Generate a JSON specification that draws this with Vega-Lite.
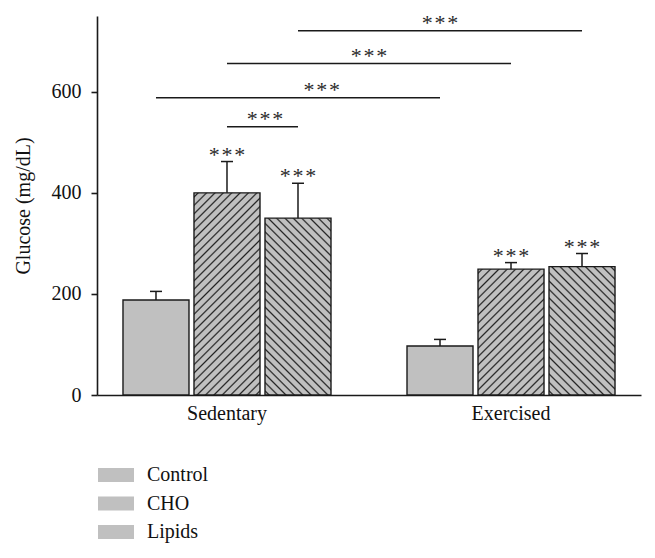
{
  "$schema": "https://vega.github.io/schema/vega-lite/v6.json",
  "width": 544,
  "height": 379,
  "autosize": "none",
  "padding": {"left": 97, "top": 16, "right": 14, "bottom": 163},
  "background": "white",
  "config": {
    "view": {"stroke": null},
    "font": "Liberation Serif",
    "axis": {"grid": false},
    "legend": {"labelFont": "Liberation Serif", "symbolStrokeColor": "#1a1a1a", "symbolStrokeWidth": 1.3}
  },
  "datasets": {
    "bars": [
      {"bar": "S-Control", "condition": "Sedentary", "group": "Control", "mean": 188, "upper": 205, "stars": ""},
      {"bar": "S-CHO", "condition": "Sedentary", "group": "CHO", "mean": 400, "upper": 462, "stars": "*\u200a*\u200a*"},
      {"bar": "S-Lipids", "condition": "Sedentary", "group": "Lipids", "mean": 350, "upper": 419, "stars": "*\u200a*\u200a*"},
      {"bar": "E-Control", "condition": "Exercised", "group": "Control", "mean": 97, "upper": 110, "stars": ""},
      {"bar": "E-CHO", "condition": "Exercised", "group": "CHO", "mean": 249, "upper": 262, "stars": "*\u200a*\u200a*"},
      {"bar": "E-Lipids", "condition": "Exercised", "group": "Lipids", "mean": 254, "upper": 280, "stars": "*\u200a*\u200a*"}
    ],
    "sig": [
      {"bar": "S-CHO", "bar2": "S-Lipids", "level": 531, "anchor": "S-Lipids", "stars": "*\u200a*\u200a*"},
      {"bar": "S-Control", "bar2": "E-Control", "level": 588, "anchor": "S-Lipids", "stars": "*\u200a*\u200a*"},
      {"bar": "S-CHO", "bar2": "E-CHO", "level": 656, "anchor": "gap", "stars": "*\u200a*\u200a*"},
      {"bar": "S-Lipids", "bar2": "E-Lipids", "level": 721, "anchor": "E-Control", "stars": "*\u200a*\u200a*"}
    ]
  },
  "layer": [
    {
      "data": {"name": "bars"},
      "mark": {"type": "bar", "stroke": "#1a1a1a", "strokeWidth": 1.4},
      "encoding": {
        "x": {
          "field": "bar", "type": "nominal", "title": null,
          "scale": {"domain": ["S-Control", "S-CHO", "S-Lipids", "gap", "E-Control", "E-CHO", "E-Lipids"], "paddingInner": 0.0704, "paddingOuter": 0.366},
          "axis": {
            "labelExpr": "datum.value == 'S-CHO' ? 'Sedentary' : datum.value == 'E-CHO' ? 'Exercised' : ''",
            "ticks": false, "tickSize": 0, "labelAngle": 0, "labelOverlap": false, "labelBound": false,
            "domainColor": "#1a1a1a", "domainWidth": 1.6,
            "labelFont": "Liberation Serif", "labelFontSize": 20, "labelColor": "#111", "labelPadding": 8
          }
        },
        "y": {
          "field": "mean", "type": "quantitative", "title": "Glucose (mg/dL)",
          "scale": {"domain": [0, 750], "nice": false},
          "axis": {
            "values": [0, 200, 400, 600], "tickSize": 6, "tickWidth": 1.6, "tickColor": "#1a1a1a",
            "domainColor": "#1a1a1a", "domainWidth": 1.6,
            "labelFont": "Liberation Serif", "labelFontSize": 20, "labelColor": "#111", "labelPadding": 10,
            "titleFont": "Liberation Serif", "titleFontSize": 20, "titleFontWeight": "normal", "titleColor": "#111", "titlePadding": 18
          }
        },
        "opacity": {
          "field": "group", "type": "nominal",
          "scale": {"domain": ["Control", "CHO", "Lipids"], "range": [1, 1, 1]},
          "legend": {
            "orient": "none", "legendX": 0, "legendY": 451, "title": null, "direction": "vertical",
            "symbolType": "M-1,-0.3889H1V0.3889H-1Z", "symbolSize": 1296, "symbolOpacity": 1,
            "symbolStrokeColor": "#1a1a1a", "symbolStrokeWidth": 1.3,
            "labelFont": "Liberation Serif", "labelFontSize": 20, "labelColor": "#111", "labelOffset": 12,
            "clipHeight": 16, "rowPadding": 8.5, "padding": 0, "offset": 0,
            "encode": {
              "labels": {"font": {"value": "Liberation Serif"}},
              "symbols": {
                "stroke": {"value": "#1a1a1a"},
                "strokeWidth": {"value": 1.3},
                "fill": {
                  "value": "#c0c0c0",
                  "condition": [
                    {"test": "datum.value === 'CHO'", "value": {"gradient": "linear", "x1": 0, "y1": 0, "x2": 1.2065, "y2": 0.4692, "stops": [
                      {"offset": 0.07, "color": "silver"}, {"offset": 0.1, "color": "#222"}, {"offset": 0.13, "color": "silver"},
                      {"offset": 0.27, "color": "silver"}, {"offset": 0.3, "color": "#222"}, {"offset": 0.33, "color": "silver"},
                      {"offset": 0.47, "color": "silver"}, {"offset": 0.5, "color": "#222"}, {"offset": 0.53, "color": "silver"},
                      {"offset": 0.67, "color": "silver"}, {"offset": 0.7, "color": "#222"}, {"offset": 0.73, "color": "silver"},
                      {"offset": 0.87, "color": "silver"}, {"offset": 0.9, "color": "#222"}, {"offset": 0.93, "color": "silver"}
                    ]}},
                    {"test": "datum.value === 'Lipids'", "value": {"gradient": "linear", "x1": 1, "y1": 0, "x2": -0.2065, "y2": 0.4692, "stops": [
                      {"offset": 0.07, "color": "silver"}, {"offset": 0.1, "color": "#222"}, {"offset": 0.13, "color": "silver"},
                      {"offset": 0.27, "color": "silver"}, {"offset": 0.3, "color": "#222"}, {"offset": 0.33, "color": "silver"},
                      {"offset": 0.47, "color": "silver"}, {"offset": 0.5, "color": "#222"}, {"offset": 0.53, "color": "silver"},
                      {"offset": 0.67, "color": "silver"}, {"offset": 0.7, "color": "#222"}, {"offset": 0.73, "color": "silver"},
                      {"offset": 0.87, "color": "silver"}, {"offset": 0.9, "color": "#222"}, {"offset": 0.93, "color": "silver"}
                    ]}}
                  ]
                }
              }
            }
          }
        },
        "fill": {
          "value": "#c0c0c0",
          "condition": [
            {"test": "datum.bar === 'S-CHO'", "value": {"gradient": "linear", "x1": 0, "y1": 0, "x2": 0.3915, "y2": 1.1987, "stops": [
              {"offset": 0.0093, "color": "silver"}, {"offset": 0.0156, "color": "#222"}, {"offset": 0.0219, "color": "silver"},
              {"offset": 0.0406, "color": "silver"}, {"offset": 0.0469, "color": "#222"}, {"offset": 0.0532, "color": "silver"},
              {"offset": 0.0718, "color": "silver"}, {"offset": 0.0781, "color": "#222"}, {"offset": 0.0844, "color": "silver"},
              {"offset": 0.1031, "color": "silver"}, {"offset": 0.1094, "color": "#222"}, {"offset": 0.1157, "color": "silver"},
              {"offset": 0.1343, "color": "silver"}, {"offset": 0.1406, "color": "#222"}, {"offset": 0.1469, "color": "silver"},
              {"offset": 0.1656, "color": "silver"}, {"offset": 0.1719, "color": "#222"}, {"offset": 0.1782, "color": "silver"},
              {"offset": 0.1968, "color": "silver"}, {"offset": 0.2031, "color": "#222"}, {"offset": 0.2094, "color": "silver"},
              {"offset": 0.2281, "color": "silver"}, {"offset": 0.2344, "color": "#222"}, {"offset": 0.2407, "color": "silver"},
              {"offset": 0.2593, "color": "silver"}, {"offset": 0.2656, "color": "#222"}, {"offset": 0.2719, "color": "silver"},
              {"offset": 0.2906, "color": "silver"}, {"offset": 0.2969, "color": "#222"}, {"offset": 0.3032, "color": "silver"},
              {"offset": 0.3218, "color": "silver"}, {"offset": 0.3281, "color": "#222"}, {"offset": 0.3344, "color": "silver"},
              {"offset": 0.3531, "color": "silver"}, {"offset": 0.3594, "color": "#222"}, {"offset": 0.3657, "color": "silver"},
              {"offset": 0.3843, "color": "silver"}, {"offset": 0.3906, "color": "#222"}, {"offset": 0.3969, "color": "silver"},
              {"offset": 0.4156, "color": "silver"}, {"offset": 0.4219, "color": "#222"}, {"offset": 0.4282, "color": "silver"},
              {"offset": 0.4468, "color": "silver"}, {"offset": 0.4531, "color": "#222"}, {"offset": 0.4594, "color": "silver"},
              {"offset": 0.4781, "color": "silver"}, {"offset": 0.4844, "color": "#222"}, {"offset": 0.4907, "color": "silver"},
              {"offset": 0.5093, "color": "silver"}, {"offset": 0.5156, "color": "#222"}, {"offset": 0.5219, "color": "silver"},
              {"offset": 0.5406, "color": "silver"}, {"offset": 0.5469, "color": "#222"}, {"offset": 0.5532, "color": "silver"},
              {"offset": 0.5718, "color": "silver"}, {"offset": 0.5781, "color": "#222"}, {"offset": 0.5844, "color": "silver"},
              {"offset": 0.6031, "color": "silver"}, {"offset": 0.6094, "color": "#222"}, {"offset": 0.6157, "color": "silver"},
              {"offset": 0.6343, "color": "silver"}, {"offset": 0.6406, "color": "#222"}, {"offset": 0.6469, "color": "silver"},
              {"offset": 0.6656, "color": "silver"}, {"offset": 0.6719, "color": "#222"}, {"offset": 0.6782, "color": "silver"},
              {"offset": 0.6968, "color": "silver"}, {"offset": 0.7031, "color": "#222"}, {"offset": 0.7094, "color": "silver"},
              {"offset": 0.7281, "color": "silver"}, {"offset": 0.7344, "color": "#222"}, {"offset": 0.7407, "color": "silver"},
              {"offset": 0.7593, "color": "silver"}, {"offset": 0.7656, "color": "#222"}, {"offset": 0.7719, "color": "silver"},
              {"offset": 0.7906, "color": "silver"}, {"offset": 0.7969, "color": "#222"}, {"offset": 0.8032, "color": "silver"},
              {"offset": 0.8218, "color": "silver"}, {"offset": 0.8281, "color": "#222"}, {"offset": 0.8344, "color": "silver"},
              {"offset": 0.8531, "color": "silver"}, {"offset": 0.8594, "color": "#222"}, {"offset": 0.8657, "color": "silver"},
              {"offset": 0.8843, "color": "silver"}, {"offset": 0.8906, "color": "#222"}, {"offset": 0.8969, "color": "silver"},
              {"offset": 0.9156, "color": "silver"}, {"offset": 0.9219, "color": "#222"}, {"offset": 0.9282, "color": "silver"},
              {"offset": 0.9468, "color": "silver"}, {"offset": 0.9531, "color": "#222"}, {"offset": 0.9594, "color": "silver"},
              {"offset": 0.9781, "color": "silver"}, {"offset": 0.9844, "color": "#222"}, {"offset": 0.9907, "color": "silver"}
            ]}},
            {"test": "datum.bar === 'S-Lipids'", "value": {"gradient": "linear", "x1": 1, "y1": 0, "x2": 0.5503, "y2": 1.2053, "stops": [
              {"offset": 0.0102, "color": "silver"}, {"offset": 0.0172, "color": "#222"}, {"offset": 0.0242, "color": "silver"},
              {"offset": 0.0447, "color": "silver"}, {"offset": 0.0517, "color": "#222"}, {"offset": 0.0587, "color": "silver"},
              {"offset": 0.0792, "color": "silver"}, {"offset": 0.0862, "color": "#222"}, {"offset": 0.0932, "color": "silver"},
              {"offset": 0.1137, "color": "silver"}, {"offset": 0.1207, "color": "#222"}, {"offset": 0.1277, "color": "silver"},
              {"offset": 0.1482, "color": "silver"}, {"offset": 0.1552, "color": "#222"}, {"offset": 0.1622, "color": "silver"},
              {"offset": 0.1827, "color": "silver"}, {"offset": 0.1897, "color": "#222"}, {"offset": 0.1967, "color": "silver"},
              {"offset": 0.2171, "color": "silver"}, {"offset": 0.2241, "color": "#222"}, {"offset": 0.2311, "color": "silver"},
              {"offset": 0.2516, "color": "silver"}, {"offset": 0.2586, "color": "#222"}, {"offset": 0.2656, "color": "silver"},
              {"offset": 0.2861, "color": "silver"}, {"offset": 0.2931, "color": "#222"}, {"offset": 0.3001, "color": "silver"},
              {"offset": 0.3206, "color": "silver"}, {"offset": 0.3276, "color": "#222"}, {"offset": 0.3346, "color": "silver"},
              {"offset": 0.3551, "color": "silver"}, {"offset": 0.3621, "color": "#222"}, {"offset": 0.3691, "color": "silver"},
              {"offset": 0.3896, "color": "silver"}, {"offset": 0.3966, "color": "#222"}, {"offset": 0.4036, "color": "silver"},
              {"offset": 0.4240, "color": "silver"}, {"offset": 0.4310, "color": "#222"}, {"offset": 0.4380, "color": "silver"},
              {"offset": 0.4585, "color": "silver"}, {"offset": 0.4655, "color": "#222"}, {"offset": 0.4725, "color": "silver"},
              {"offset": 0.4930, "color": "silver"}, {"offset": 0.5000, "color": "#222"}, {"offset": 0.5070, "color": "silver"},
              {"offset": 0.5275, "color": "silver"}, {"offset": 0.5345, "color": "#222"}, {"offset": 0.5415, "color": "silver"},
              {"offset": 0.5620, "color": "silver"}, {"offset": 0.5690, "color": "#222"}, {"offset": 0.5760, "color": "silver"},
              {"offset": 0.5964, "color": "silver"}, {"offset": 0.6034, "color": "#222"}, {"offset": 0.6104, "color": "silver"},
              {"offset": 0.6309, "color": "silver"}, {"offset": 0.6379, "color": "#222"}, {"offset": 0.6449, "color": "silver"},
              {"offset": 0.6654, "color": "silver"}, {"offset": 0.6724, "color": "#222"}, {"offset": 0.6794, "color": "silver"},
              {"offset": 0.6999, "color": "silver"}, {"offset": 0.7069, "color": "#222"}, {"offset": 0.7139, "color": "silver"},
              {"offset": 0.7344, "color": "silver"}, {"offset": 0.7414, "color": "#222"}, {"offset": 0.7484, "color": "silver"},
              {"offset": 0.7689, "color": "silver"}, {"offset": 0.7759, "color": "#222"}, {"offset": 0.7829, "color": "silver"},
              {"offset": 0.8033, "color": "silver"}, {"offset": 0.8103, "color": "#222"}, {"offset": 0.8173, "color": "silver"},
              {"offset": 0.8378, "color": "silver"}, {"offset": 0.8448, "color": "#222"}, {"offset": 0.8518, "color": "silver"},
              {"offset": 0.8723, "color": "silver"}, {"offset": 0.8793, "color": "#222"}, {"offset": 0.8863, "color": "silver"},
              {"offset": 0.9068, "color": "silver"}, {"offset": 0.9138, "color": "#222"}, {"offset": 0.9208, "color": "silver"},
              {"offset": 0.9413, "color": "silver"}, {"offset": 0.9483, "color": "#222"}, {"offset": 0.9553, "color": "silver"},
              {"offset": 0.9758, "color": "silver"}, {"offset": 0.9828, "color": "#222"}, {"offset": 0.9898, "color": "silver"}
            ]}},
            {"test": "datum.bar === 'E-CHO'", "value": {"gradient": "linear", "x1": 0, "y1": 0, "x2": 0.6272, "y2": 1.1956, "stops": [
              {"offset": 0.0129, "color": "silver"}, {"offset": 0.0217, "color": "#222"}, {"offset": 0.0305, "color": "silver"},
              {"offset": 0.0564, "color": "silver"}, {"offset": 0.0652, "color": "#222"}, {"offset": 0.0740, "color": "silver"},
              {"offset": 0.0999, "color": "silver"}, {"offset": 0.1087, "color": "#222"}, {"offset": 0.1175, "color": "silver"},
              {"offset": 0.1434, "color": "silver"}, {"offset": 0.1522, "color": "#222"}, {"offset": 0.1610, "color": "silver"},
              {"offset": 0.1869, "color": "silver"}, {"offset": 0.1957, "color": "#222"}, {"offset": 0.2045, "color": "silver"},
              {"offset": 0.2303, "color": "silver"}, {"offset": 0.2391, "color": "#222"}, {"offset": 0.2479, "color": "silver"},
              {"offset": 0.2738, "color": "silver"}, {"offset": 0.2826, "color": "#222"}, {"offset": 0.2914, "color": "silver"},
              {"offset": 0.3173, "color": "silver"}, {"offset": 0.3261, "color": "#222"}, {"offset": 0.3349, "color": "silver"},
              {"offset": 0.3608, "color": "silver"}, {"offset": 0.3696, "color": "#222"}, {"offset": 0.3784, "color": "silver"},
              {"offset": 0.4042, "color": "silver"}, {"offset": 0.4130, "color": "#222"}, {"offset": 0.4218, "color": "silver"},
              {"offset": 0.4477, "color": "silver"}, {"offset": 0.4565, "color": "#222"}, {"offset": 0.4653, "color": "silver"},
              {"offset": 0.4912, "color": "silver"}, {"offset": 0.5000, "color": "#222"}, {"offset": 0.5088, "color": "silver"},
              {"offset": 0.5347, "color": "silver"}, {"offset": 0.5435, "color": "#222"}, {"offset": 0.5523, "color": "silver"},
              {"offset": 0.5782, "color": "silver"}, {"offset": 0.5870, "color": "#222"}, {"offset": 0.5958, "color": "silver"},
              {"offset": 0.6216, "color": "silver"}, {"offset": 0.6304, "color": "#222"}, {"offset": 0.6392, "color": "silver"},
              {"offset": 0.6651, "color": "silver"}, {"offset": 0.6739, "color": "#222"}, {"offset": 0.6827, "color": "silver"},
              {"offset": 0.7086, "color": "silver"}, {"offset": 0.7174, "color": "#222"}, {"offset": 0.7262, "color": "silver"},
              {"offset": 0.7521, "color": "silver"}, {"offset": 0.7609, "color": "#222"}, {"offset": 0.7697, "color": "silver"},
              {"offset": 0.7955, "color": "silver"}, {"offset": 0.8043, "color": "#222"}, {"offset": 0.8131, "color": "silver"},
              {"offset": 0.8390, "color": "silver"}, {"offset": 0.8478, "color": "#222"}, {"offset": 0.8566, "color": "silver"},
              {"offset": 0.8825, "color": "silver"}, {"offset": 0.8913, "color": "#222"}, {"offset": 0.9001, "color": "silver"},
              {"offset": 0.9260, "color": "silver"}, {"offset": 0.9348, "color": "#222"}, {"offset": 0.9436, "color": "silver"},
              {"offset": 0.9695, "color": "silver"}, {"offset": 0.9783, "color": "#222"}, {"offset": 0.9871, "color": "silver"}
            ]}},
            {"test": "datum.bar === 'E-Lipids'", "value": {"gradient": "linear", "x1": 1, "y1": 0, "x2": 0.3844, "y2": 1.1976, "stops": [
              {"offset": 0.0129, "color": "silver"}, {"offset": 0.0217, "color": "#222"}, {"offset": 0.0305, "color": "silver"},
              {"offset": 0.0564, "color": "silver"}, {"offset": 0.0652, "color": "#222"}, {"offset": 0.0740, "color": "silver"},
              {"offset": 0.0999, "color": "silver"}, {"offset": 0.1087, "color": "#222"}, {"offset": 0.1175, "color": "silver"},
              {"offset": 0.1434, "color": "silver"}, {"offset": 0.1522, "color": "#222"}, {"offset": 0.1610, "color": "silver"},
              {"offset": 0.1869, "color": "silver"}, {"offset": 0.1957, "color": "#222"}, {"offset": 0.2045, "color": "silver"},
              {"offset": 0.2303, "color": "silver"}, {"offset": 0.2391, "color": "#222"}, {"offset": 0.2479, "color": "silver"},
              {"offset": 0.2738, "color": "silver"}, {"offset": 0.2826, "color": "#222"}, {"offset": 0.2914, "color": "silver"},
              {"offset": 0.3173, "color": "silver"}, {"offset": 0.3261, "color": "#222"}, {"offset": 0.3349, "color": "silver"},
              {"offset": 0.3608, "color": "silver"}, {"offset": 0.3696, "color": "#222"}, {"offset": 0.3784, "color": "silver"},
              {"offset": 0.4042, "color": "silver"}, {"offset": 0.4130, "color": "#222"}, {"offset": 0.4218, "color": "silver"},
              {"offset": 0.4477, "color": "silver"}, {"offset": 0.4565, "color": "#222"}, {"offset": 0.4653, "color": "silver"},
              {"offset": 0.4912, "color": "silver"}, {"offset": 0.5000, "color": "#222"}, {"offset": 0.5088, "color": "silver"},
              {"offset": 0.5347, "color": "silver"}, {"offset": 0.5435, "color": "#222"}, {"offset": 0.5523, "color": "silver"},
              {"offset": 0.5782, "color": "silver"}, {"offset": 0.5870, "color": "#222"}, {"offset": 0.5958, "color": "silver"},
              {"offset": 0.6216, "color": "silver"}, {"offset": 0.6304, "color": "#222"}, {"offset": 0.6392, "color": "silver"},
              {"offset": 0.6651, "color": "silver"}, {"offset": 0.6739, "color": "#222"}, {"offset": 0.6827, "color": "silver"},
              {"offset": 0.7086, "color": "silver"}, {"offset": 0.7174, "color": "#222"}, {"offset": 0.7262, "color": "silver"},
              {"offset": 0.7521, "color": "silver"}, {"offset": 0.7609, "color": "#222"}, {"offset": 0.7697, "color": "silver"},
              {"offset": 0.7955, "color": "silver"}, {"offset": 0.8043, "color": "#222"}, {"offset": 0.8131, "color": "silver"},
              {"offset": 0.8390, "color": "silver"}, {"offset": 0.8478, "color": "#222"}, {"offset": 0.8566, "color": "silver"},
              {"offset": 0.8825, "color": "silver"}, {"offset": 0.8913, "color": "#222"}, {"offset": 0.9001, "color": "silver"},
              {"offset": 0.9260, "color": "silver"}, {"offset": 0.9348, "color": "#222"}, {"offset": 0.9436, "color": "silver"},
              {"offset": 0.9695, "color": "silver"}, {"offset": 0.9783, "color": "#222"}, {"offset": 0.9871, "color": "silver"}
            ]}}
          ]
        }
      }
    },
    {
      "data": {"name": "bars"},
      "mark": {"type": "rule", "color": "#1a1a1a", "strokeWidth": 1.5},
      "encoding": {
        "x": {"field": "bar", "type": "nominal", "title": null, "scale": {"domain": ["S-Control", "S-CHO", "S-Lipids", "gap", "E-Control", "E-CHO", "E-Lipids"], "paddingInner": 0.0704, "paddingOuter": 0.366}},
        "y": {"field": "mean", "type": "quantitative", "title": "Glucose (mg/dL)"},
        "y2": {"field": "upper"}
      }
    },
    {
      "data": {"name": "bars"},
      "mark": {"type": "tick", "orient": "horizontal", "size": 12, "thickness": 1.5, "color": "#1a1a1a", "opacity": 1},
      "encoding": {
        "x": {"field": "bar", "type": "nominal", "title": null, "scale": {"domain": ["S-Control", "S-CHO", "S-Lipids", "gap", "E-Control", "E-CHO", "E-Lipids"], "paddingInner": 0.0704, "paddingOuter": 0.366}},
        "y": {"field": "upper", "type": "quantitative", "title": "Glucose (mg/dL)"}
      }
    },
    {
      "data": {"name": "bars"},
      "mark": {"type": "text", "font": "Liberation Serif", "fontSize": 22, "color": "#2a2a2a", "align": "center", "baseline": "alphabetic", "dy": 0},
      "encoding": {
        "x": {"field": "bar", "type": "nominal", "title": null, "scale": {"domain": ["S-Control", "S-CHO", "S-Lipids", "gap", "E-Control", "E-CHO", "E-Lipids"], "paddingInner": 0.0704, "paddingOuter": 0.366}},
        "y": {"field": "upper", "type": "quantitative", "title": "Glucose (mg/dL)"},
        "text": {"field": "stars"}
      }
    },
    {
      "data": {"name": "sig"},
      "mark": {"type": "rule", "color": "#1a1a1a", "strokeWidth": 1.5},
      "encoding": {
        "x": {"field": "bar", "type": "nominal", "title": null, "scale": {"domain": ["S-Control", "S-CHO", "S-Lipids", "gap", "E-Control", "E-CHO", "E-Lipids"], "paddingInner": 0.0704, "paddingOuter": 0.366}},
        "x2": {"field": "bar2"},
        "y": {"field": "level", "type": "quantitative", "title": "Glucose (mg/dL)"}
      }
    },
    {
      "data": {"name": "sig"},
      "transform": [{"filter": "datum.level == 656 || datum.level == 721"}],
      "mark": {"type": "text", "font": "Liberation Serif", "fontSize": 22, "color": "#2a2a2a", "align": "center", "baseline": "alphabetic", "dy": -1},
      "encoding": {
        "x": {"field": "anchor", "type": "nominal", "title": null, "bandPosition": 0.5, "scale": {"domain": ["S-Control", "S-CHO", "S-Lipids", "gap", "E-Control", "E-CHO", "E-Lipids"], "paddingInner": 0.0704, "paddingOuter": 0.366}},
        "y": {"field": "level", "type": "quantitative", "title": "Glucose (mg/dL)"},
        "text": {"field": "stars"}
      }
    },
    {
      "data": {"name": "sig"},
      "transform": [{"filter": "datum.level == 531"}],
      "mark": {"type": "text", "font": "Liberation Serif", "fontSize": 22, "color": "#2a2a2a", "align": "center", "baseline": "alphabetic", "dy": -1},
      "encoding": {
        "x": {"field": "anchor", "type": "nominal", "title": null, "bandPosition": 0, "scale": {"domain": ["S-Control", "S-CHO", "S-Lipids", "gap", "E-Control", "E-CHO", "E-Lipids"], "paddingInner": 0.0704, "paddingOuter": 0.366}},
        "y": {"field": "level", "type": "quantitative", "title": "Glucose (mg/dL)"},
        "text": {"field": "stars"}
      }
    },
    {
      "data": {"name": "sig"},
      "transform": [{"filter": "datum.level == 588"}],
      "mark": {"type": "text", "font": "Liberation Serif", "fontSize": 22, "color": "#2a2a2a", "align": "center", "baseline": "alphabetic", "dy": -1},
      "encoding": {
        "x": {"field": "anchor", "type": "nominal", "title": null, "bandPosition": 0.86, "scale": {"domain": ["S-Control", "S-CHO", "S-Lipids", "gap", "E-Control", "E-CHO", "E-Lipids"], "paddingInner": 0.0704, "paddingOuter": 0.366}},
        "y": {"field": "level", "type": "quantitative", "title": "Glucose (mg/dL)"},
        "text": {"field": "stars"}
      }
    }
  ]
}
